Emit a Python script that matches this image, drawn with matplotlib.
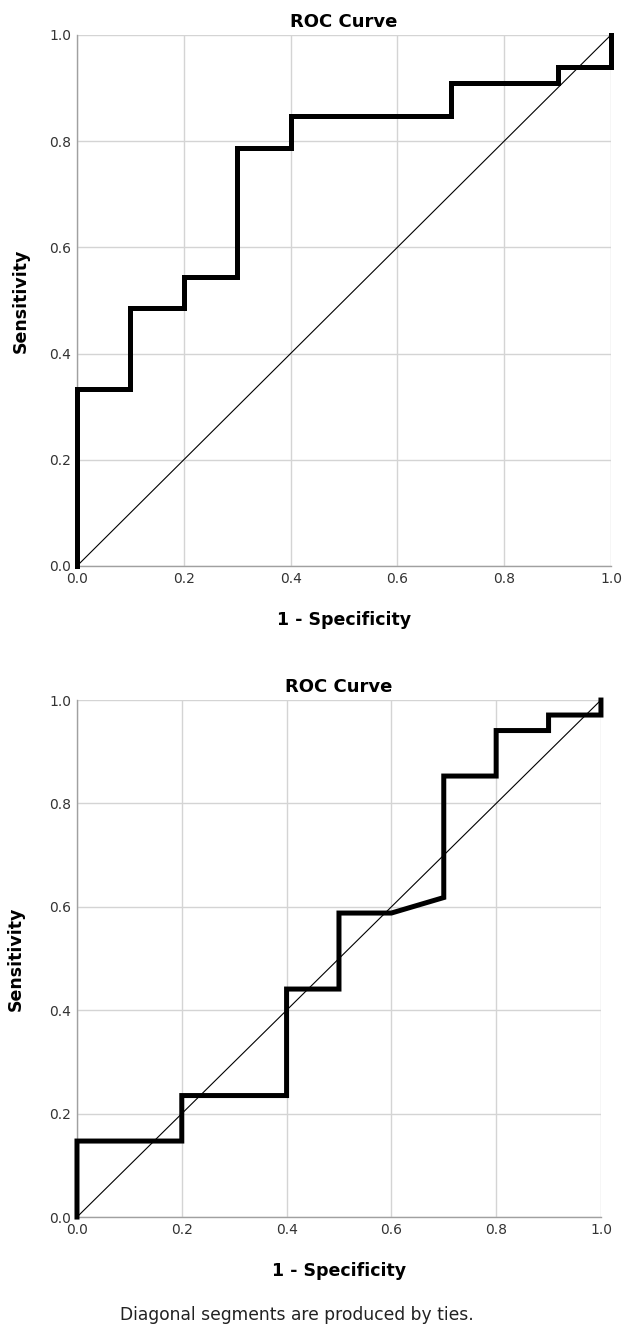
import matplotlib
import matplotlib.pyplot as plt

matplotlib.use('agg')

# ROC curve 1 (step corners, fpr / tpr)
fpr_1 = [0.0, 0.0, 0.1, 0.1, 0.2, 0.2, 0.3, 0.3, 0.4, 0.4, 0.7, 0.7, 0.9, 0.9, 1.0, 1.0]
tpr_1 = [0.0, 0.333, 0.333, 0.485, 0.485, 0.545, 0.545, 0.788, 0.788, 0.848, 0.848, 0.909, 0.909, 0.939, 0.939, 1.0]

# ROC curve 2 (contains one diagonal segment from ties)
fpr_2 = [0.0, 0.0, 0.2, 0.2, 0.4, 0.4, 0.5, 0.5, 0.6, 0.7, 0.7, 0.8, 0.8, 0.9, 0.9, 1.0, 1.0]
tpr_2 = [0.0, 0.147, 0.147, 0.235, 0.235, 0.441, 0.441, 0.588, 0.588, 0.618, 0.853, 0.853, 0.941, 0.941, 0.971, 0.971, 1.0]

ticks = [0.0, 0.2, 0.4, 0.6, 0.8, 1.0]
tick_labels = ["0.0", "0.2", "0.4", "0.6", "0.8", "1.0"]

fig = plt.figure(figsize=(6.3, 13.38), dpi=100)
ax1 = fig.add_axes([0.1222, 0.577, 0.8476, 0.3969])
ax2 = fig.add_axes([0.1222, 0.0904, 0.8317, 0.3864])


def draw_roc(ax, fpr, tpr, label_pad):
    ax.plot([0, 1], [0, 1], color='black', lw=0.8, zorder=3)
    ax.plot(fpr, tpr, color='black', lw=3.6, solid_joinstyle='miter', zorder=4, clip_on=False)
    ax.set_xlim(0, 1)
    ax.set_ylim(0, 1)
    ax.set_xticks(ticks)
    ax.set_yticks(ticks)
    ax.set_xticklabels(tick_labels)
    ax.set_yticklabels(tick_labels)
    ax.tick_params(length=0, labelsize=10, labelcolor='#333333', pad=4)
    ax.grid(True, color='#d4d4d4', lw=1.0)
    ax.set_axisbelow(True)
    for side in ['top', 'right']:
        ax.spines[side].set_visible(False)
    for side in ['left', 'bottom']:
        ax.spines[side].set_color('#a0a0a0')
        ax.spines[side].set_linewidth(1.0)
    ax.set_title("ROC Curve", fontsize=13, fontweight='bold', pad=6)
    ax.set_xlabel("1 - Specificity", fontsize=12.5, fontweight='bold', labelpad=18)
    ax.set_ylabel("Sensitivity", fontsize=12.5, fontweight='bold', labelpad=label_pad)


draw_roc(ax1, fpr_1, tpr_1, 14)
draw_roc(ax2, fpr_2, tpr_2, 18)

fig.text(0.19, 0.0135, "Diagonal segments are produced by ties.", fontsize=12.3, color='#222222')

plt.savefig('out.png', dpi=100)
plt.close()
